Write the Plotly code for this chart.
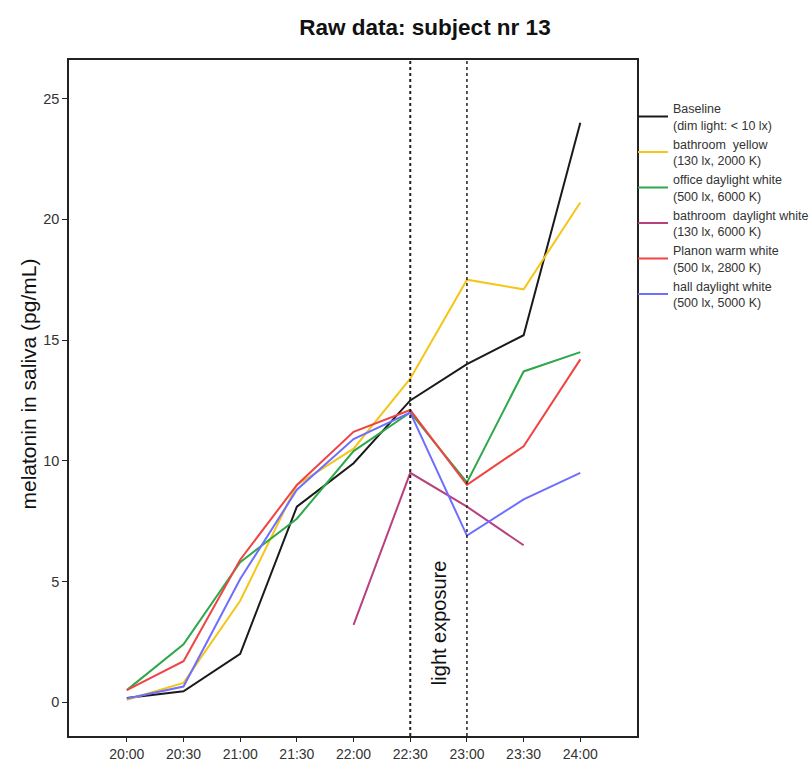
import plotly.graph_objects as go

times = ["20:00", "20:30", "21:00", "21:30", "22:00", "22:30", "23:00", "23:30", "24:00"]

baseline = [0.17, 0.45, 2.0, 8.1, 9.9, 12.5, 14.0, 15.2, 24.0]
bathroom_yellow = [0.1, 0.8, 4.2, 9.0, 10.5, 13.4, 17.5, 17.1, 20.7]
office_daylight = [0.5, 2.4, 5.8, 7.6, 10.4, 12.0, 9.1, 13.7, 14.5]
bathroom_daylight = [None, None, None, None, 3.2, 9.5, 8.1, 6.5, None]
planon_warm = [0.5, 1.7, 5.9, 9.0, 11.2, 12.1, 9.0, 10.6, 14.2]
hall_daylight = [0.15, 0.65, 5.1, 8.8, 10.9, 12.0, 6.9, 8.4, 9.5]

series_names = [
    "Baseline<br>(dim light: < 10 lx)",
    "bathroom  yellow<br>(130 lx, 2000 K)",
    "office daylight white<br>(500 lx, 6000 K)",
    "bathroom  daylight white<br>(130 lx, 6000 K)",
    "Planon warm white<br>(500 lx, 2800 K)",
    "hall daylight white<br>(500 lx, 5000 K)",
]
series_values = [baseline, bathroom_yellow, office_daylight, bathroom_daylight, planon_warm, hall_daylight]
series_colors = ["#1a1a1a", "#f5c518", "#2ea84a", "#b8407e", "#f04444", "#6e6eff"]

exposure_times = ["22:30", "23:00"]
exposure_widths = [2, 1.5]

idx = {t: i for i, t in enumerate(times)}
xs = list(range(len(times)))

L, R, T, B = 69, 173, 60, 26
PW = 810 - L - R

fig = go.Figure()
for name, vals, col in zip(series_names, series_values, series_colors):
    fig.add_trace(go.Scatter(x=xs, y=vals, mode="lines", name=name,
                             line=dict(color=col, width=2), connectgaps=False))

for t, w in zip(exposure_times, exposure_widths):
    fig.add_shape(type="line", xref="x", yref="paper", x0=idx[t], x1=idx[t], y0=0, y1=1,
                  line=dict(color="#222", width=w, dash="dot"))

fig.add_annotation(x=(idx["22:30"] + idx["23:00"]) / 2, y=3.3, xref="x", yref="y",
                   text="light exposure", textangle=-90, showarrow=False,
                   font=dict(size=20, color="#111", family="Arial, Liberation Sans"))

fig.add_annotation(x=(28 - L) / PW, y=0.52, xref="paper", yref="paper",
                   text="melatonin in saliva (pg/mL)", textangle=-90, showarrow=False,
                   xanchor="center", yanchor="middle",
                   font=dict(size=21, color="#111", family="Arial, Liberation Sans"))

fig.update_layout(
    width=810, height=762,
    paper_bgcolor="white", plot_bgcolor="white",
    margin=dict(l=L, r=R, t=T, b=B, autoexpand=False),
    title=dict(text="<b>Raw data: subject nr 13</b>", x=425 / 810, xanchor="center", y=1 - 27 / 762,
               yanchor="middle",
               font=dict(size=22.5, color="#111", family="Arial, Liberation Sans")),
    font=dict(family="Arial, Liberation Sans", color="#333"),
    showlegend=True,
    legend=dict(x=1.0 - 4 / PW, xanchor="left", y=0.95, yanchor="top", bgcolor="rgba(0,0,0,0)",
                font=dict(size=12.5, color="#333"), tracegroupgap=0, valign="middle",
                itemwidth=30),
)
fig.update_xaxes(range=[-1.02, 9.0], tickmode="array", tickvals=xs, ticktext=times,
                 showgrid=False, zeroline=False, showline=True, linecolor="#222", linewidth=1.5,
                 mirror=True, ticks="outside", ticklen=4, tickcolor="#222", automargin=False,
                 tickfont=dict(size=14, color="#333"))
fig.update_yaxes(range=[-1.4, 26.6], tickvals=[0, 5, 10, 15, 20, 25],
                 showgrid=False, zeroline=False, showline=True, linecolor="#222", linewidth=1.5,
                 mirror=True, ticks="outside", ticklen=5, tickcolor="#222", automargin=False,
                 tickfont=dict(size=14.5, color="#333"))

fig.write_html("out.html")
